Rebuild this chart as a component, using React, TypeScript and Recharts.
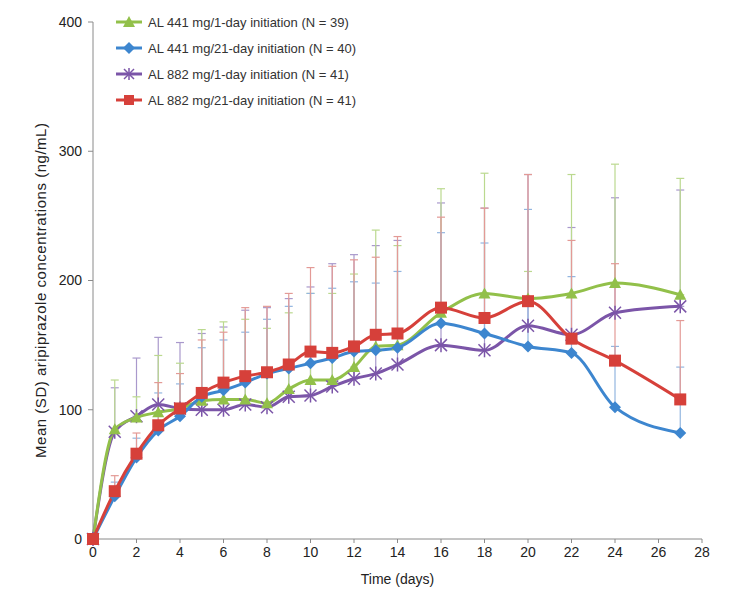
import React from "react";
import { LineChart, Line, XAxis, YAxis, ErrorBar } from "recharts";

const days = [0, 1, 2, 3, 4, 5, 6, 7, 8, 9, 10, 11, 12, 13, 14, 16, 18, 20, 22, 24, 27];
const xTicks = [0, 2, 4, 6, 8, 10, 12, 14, 16, 18, 20, 22, 24, 26, 28];
const yTicks = [0, 100, 200, 300, 400];

const seriesNames = [
  "AL 441 mg/1-day initiation (N = 39)",
  "AL 441 mg/21-day initiation (N = 40)",
  "AL 882 mg/1-day initiation (N = 41)",
  "AL 882 mg/21-day initiation (N = 41)",
];

const g441d1Mean = [0, 85, 94, 98, 101, 107, 108, 108, 105, 116, 123, 123, 133, 149, 150, 175, 190, 186, 190, 198, 189];
const g441d1Upper = [0, 123, 110, 142, 136, 162, 168, 170, 163, 175, 190, 190, 205, 239, 227, 271, 283, 207, 282, 290, 279];
const b441d21Mean = [0, 33, 63, 84, 95, 110, 115, 121, 128, 132, 136, 140, 145, 146, 148, 167, 159, 149, 144, 102, 82];
const b441d21Upper = [0, 44, 78, 113, 120, 148, 154, 160, 170, 180, 190, 194, 199, 198, 207, 237, 229, 255, 203, 149, 133];
const p882d1Mean = [0, 83, 95, 104, 101, 100, 100, 104, 102, 110, 111, 118, 124, 128, 135, 150, 146, 165, 158, 175, 180];
const p882d1Upper = [0, 117, 140, 156, 152, 159, 164, 177, 179, 186, 195, 213, 220, 227, 231, 260, 256, 282, 241, 264, 270];
const r882d21Mean = [0, 37, 66, 88, 101, 113, 121, 126, 129, 135, 145, 144, 149, 158, 159, 179, 171, 184, 155, 138, 108];
const r882d21Upper = [0, 49, 82, 121, 128, 154, 160, 179, 180, 190, 210, 211, 216, 218, 234, 249, 256, 282, 231, 213, 169];

const GREEN = "#92C04A";
const BLUE = "#3D86CF";
const PURPLE = "#7B55A8";
const RED = "#D6403A";

const data = days.map((d, i) => ({
  day: d,
  g: g441d1Mean[i],
  gErr: [0, g441d1Upper[i] - g441d1Mean[i]],
  b: b441d21Mean[i],
  bErr: [0, b441d21Upper[i] - b441d21Mean[i]],
  p: p882d1Mean[i],
  pErr: [0, p882d1Upper[i] - p882d1Mean[i]],
  r: r882d21Mean[i],
  rErr: [0, r882d21Upper[i] - r882d21Mean[i]],
}));

const Tri = (props: any) => {
  const { cx, cy } = props;
  if (cx == null || cy == null) return null;
  return <polygon points={`${cx},${cy - 6} ${cx + 6},${cy + 5} ${cx - 6},${cy + 5}`} fill={GREEN} />;
};
const Dia = (props: any) => {
  const { cx, cy } = props;
  if (cx == null || cy == null) return null;
  return <polygon points={`${cx},${cy - 6} ${cx + 6},${cy} ${cx},${cy + 6} ${cx - 6},${cy}`} fill={BLUE} />;
};
const Star = (props: any) => {
  const { cx, cy } = props;
  if (cx == null || cy == null) return null;
  return (
    <g stroke={PURPLE} strokeWidth={1.5}>
      <line x1={cx - 6} y1={cy - 6} x2={cx + 6} y2={cy + 6} />
      <line x1={cx - 6} y1={cy + 6} x2={cx + 6} y2={cy - 6} />
      <line x1={cx} y1={cy - 7} x2={cx} y2={cy + 7} />
    </g>
  );
};
const Sq = (props: any) => {
  const { cx, cy } = props;
  if (cx == null || cy == null) return null;
  return <rect x={cx - 6} y={cy - 6} width={12} height={12} fill={RED} />;
};

const legendItems = [
  { name: seriesNames[0], color: GREEN, shape: "tri" },
  { name: seriesNames[1], color: BLUE, shape: "dia" },
  { name: seriesNames[2], color: PURPLE, shape: "star" },
  { name: seriesNames[3], color: RED, shape: "sq" },
];

const LegendBox = () => (
  <div
    style={{
      position: "absolute",
      left: 116,
      top: 9,
      fontFamily: "Liberation Sans, Arial, sans-serif",
      fontSize: 13,
      color: "#333",
    }}
  >
    {legendItems.map((it) => (
      <div key={it.name} style={{ display: "flex", alignItems: "center", height: 26 }}>
        <svg width={26} height={14} style={{ marginRight: 6 }}>
          <line x1={0} y1={7} x2={26} y2={7} stroke={it.color} strokeWidth={3} />
          {it.shape === "tri" && <polygon points="13,1 19,12 7,12" fill={it.color} />}
          {it.shape === "dia" && <polygon points="13,1 19,7 13,13 7,7" fill={it.color} />}
          {it.shape === "star" && (
            <g stroke={it.color} strokeWidth={1.5}>
              <line x1={8} y1={2} x2={18} y2={12} />
              <line x1={8} y1={12} x2={18} y2={2} />
              <line x1={13} y1={1} x2={13} y2={13} />
            </g>
          )}
          {it.shape === "sq" && <rect x={8} y={2} width={10} height={10} fill={it.color} />}
        </svg>
        <span>{it.name}</span>
      </div>
    ))}
  </div>
);

const FONT = "Liberation Sans, Arial, sans-serif";
const xTickFont = { fontFamily: FONT, fontSize: 14, fill: "#222" };
const yTickFont = { fontFamily: FONT, fontSize: 14, fill: "#222" };

const YLabel = (props: any) => {
  const vb = props.viewBox || {};
  const cy = (vb.y ?? 22) + (vb.height ?? 517) / 2 + 10;
  const cx = 40;
  return (
    <text
      x={cx}
      y={cy}
      transform={`rotate(-90, ${cx}, ${cy})`}
      textAnchor="middle"
      dominantBaseline="central"
      fontFamily={FONT}
      fontSize={15}
      fill="#222"
      textLength={335}
      lengthAdjust="spacing"
    >
      Mean (SD) aripiprazole concentrations (ng/mL)
    </text>
  );
};

export default function App() {
  return (
    <div style={{ position: "absolute", left: 0, top: 0, width: 733, height: 595, background: "#fff" }}>
      <LineChart width={733} height={595} data={data} margin={{ top: 22, right: 31, bottom: 0, left: 0 }}>
        <XAxis
          dataKey="day"
          type="number"
          domain={[0, 28]}
          ticks={xTicks}
          interval={0}
          height={56}
          stroke="#8a8a8a"
          tickSize={4}
          tickMargin={4}
          tick={xTickFont}
          label={{
            value: "Time (days)",
            position: "insideBottom",
            offset: 11,
            style: { fontFamily: FONT, fontSize: 14, fill: "#222" },
          }}
        />
        <YAxis
          type="number"
          domain={[0, 400]}
          ticks={yTicks}
          interval={0}
          width={93}
          stroke="#8a8a8a"
          tickSize={5}
          tickMargin={6}
          tick={yTickFont}
          label={<YLabel />}
        />
        <Line
          dataKey="p"
          name={seriesNames[2]}
          type="monotone"
          stroke={PURPLE}
          strokeWidth={3}
          dot={<Star />}
          isAnimationActive={false}
        >
          <ErrorBar dataKey="pErr" direction="y" width={4} stroke="#A999CC" strokeWidth={1.2} />
        </Line>
        <Line
          dataKey="g"
          name={seriesNames[0]}
          type="monotone"
          stroke={GREEN}
          strokeWidth={3}
          dot={<Tri />}
          isAnimationActive={false}
        >
          <ErrorBar dataKey="gErr" direction="y" width={4} stroke="#BBD98F" strokeWidth={1.2} />
        </Line>
        <Line
          dataKey="b"
          name={seriesNames[1]}
          type="monotone"
          stroke={BLUE}
          strokeWidth={3}
          dot={<Dia />}
          isAnimationActive={false}
        >
          <ErrorBar dataKey="bErr" direction="y" width={4} stroke="#93B6E0" strokeWidth={1.2} />
        </Line>
        <Line
          dataKey="r"
          name={seriesNames[3]}
          type="monotone"
          stroke={RED}
          strokeWidth={3}
          dot={<Sq />}
          isAnimationActive={false}
        >
          <ErrorBar dataKey="rErr" direction="y" width={4} stroke="#E39A96" strokeWidth={1.2} />
        </Line>
      </LineChart>
      <LegendBox />
    </div>
  );
}
